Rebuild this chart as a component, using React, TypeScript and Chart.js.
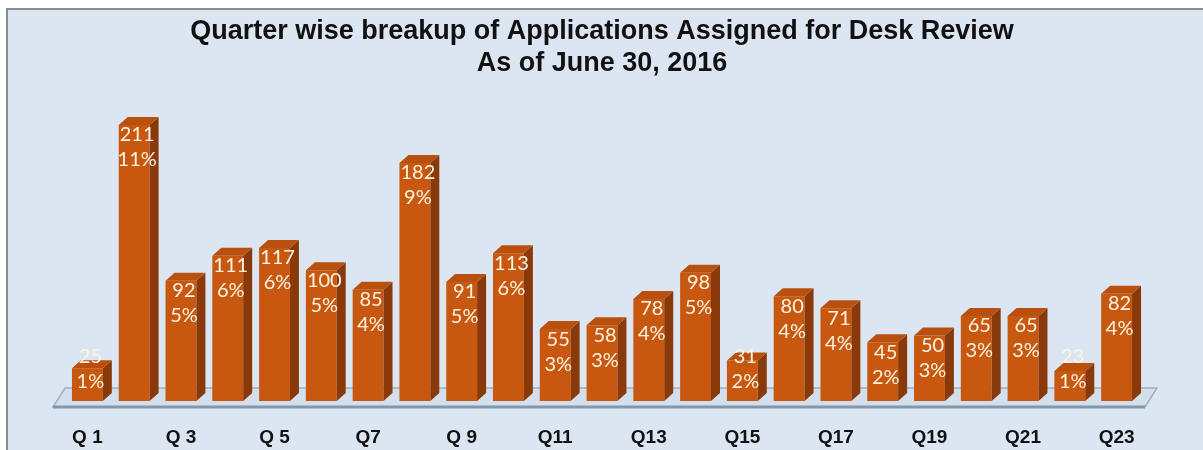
import React, { useEffect, useRef } from "react";
import { Chart, registerables } from "chart.js";

Chart.register(...registerables);

const categories = [
  "Q 1", "Q 2", "Q 3", "Q 4", "Q 5", "Q 6", "Q7", "Q8", "Q 9", "Q10", "Q11", "Q12",
  "Q13", "Q14", "Q15", "Q16", "Q17", "Q18", "Q19", "Q20", "Q21", "Q22", "Q23",
];
const applications = [25, 211, 92, 111, 117, 100, 85, 182, 91, 113, 55, 58, 78, 98, 31, 80, 71, 45, 50, 65, 65, 23, 82];
const percentLabels = ["1%", "11%", "5%", "6%", "6%", "5%", "4%", "9%", "5%", "6%", "3%", "3%", "4%", "5%", "2%", "4%", "4%", "2%", "3%", "3%", "3%", "1%", "4%"];
const titleLines = ["Quarter wise breakup of Applications Assigned for Desk Review", "As of June 30, 2016"];

const BG = "#dce6f2";
const DX = 9;
const DY = -8;

const panelPlugin = {
  id: "panel",
  beforeDraw(chart: any) {
    const { ctx, width, height } = chart;
    ctx.save();
    ctx.fillStyle = "#ffffff";
    ctx.fillRect(0, 0, width, height);
    ctx.fillStyle = BG;
    ctx.fillRect(7, 9, width - 7, height - 9);
    ctx.strokeStyle = "#8c8c8c";
    ctx.lineWidth = 2;
    ctx.beginPath();
    ctx.moveTo(7, height);
    ctx.lineTo(7, 9);
    ctx.lineTo(width, 9);
    ctx.stroke();
    ctx.restore();
  },
};

const floorPlugin = {
  id: "floor3d",
  beforeDatasetsDraw(chart: any) {
    const { ctx, chartArea } = chart;
    const b = chartArea.bottom;
    const fl = chartArea.left - 11;
    const fr = chartArea.right + 5;
    ctx.save();
    ctx.fillStyle = "#d3dfec";
    ctx.beginPath();
    ctx.moveTo(fl, b + 6);
    ctx.lineTo(fr, b + 6);
    ctx.lineTo(fr + 12, b - 13);
    ctx.lineTo(fl + 12, b - 13);
    ctx.closePath();
    ctx.fill();
    ctx.strokeStyle = "#9fb0c2";
    ctx.lineWidth = 1.5;
    ctx.stroke();
    ctx.strokeStyle = "#8397ad";
    ctx.lineWidth = 3;
    ctx.beginPath();
    ctx.moveTo(fl, b + 6);
    ctx.lineTo(fr, b + 6);
    ctx.stroke();
    ctx.restore();
  },
};

const bar3dPlugin = {
  id: "bar3d",
  afterDatasetsDraw(chart: any) {
    const { ctx } = chart;
    const meta = chart.getDatasetMeta(0);
    ctx.save();
    meta.data.forEach((el: any, i: number) => {
      const p = el.getProps(["x", "y", "base", "width"], true);
      const l = p.x - p.width / 2;
      const r = p.x + p.width / 2;
      ctx.fillStyle = "#8a3a0a";
      ctx.beginPath();
      ctx.moveTo(r, p.y);
      ctx.lineTo(r + DX, p.y + DY);
      ctx.lineTo(r + DX, p.base + DY);
      ctx.lineTo(r, p.base);
      ctx.closePath();
      ctx.fill();
      ctx.fillStyle = "#b9500e";
      ctx.beginPath();
      ctx.moveTo(l, p.y);
      ctx.lineTo(r, p.y);
      ctx.lineTo(r + DX, p.y + DY);
      ctx.lineTo(l + DX, p.y + DY);
      ctx.closePath();
      ctx.fill();
      ctx.fillStyle = "#fff3e2";
      ctx.font = "20px Lato, 'DejaVu Sans', sans-serif";
      ctx.textAlign = "center";
      ctx.textBaseline = "middle";
      const y2 = Math.min(p.y + 35, p.base - 19);
      const y1 = y2 - 25;
      ctx.fillText(String(applications[i]), p.x + 3, y1);
      ctx.fillText(percentLabels[i], p.x + 3, y2);
    });
    ctx.restore();
  },
};

export default function App() {
  const canvasRef = useRef<HTMLCanvasElement | null>(null);

  useEffect(() => {
    if (!canvasRef.current) return;
    const chart = new Chart(canvasRef.current, {
      type: "bar",
      data: {
        labels: categories,
        datasets: [
          {
            data: applications,
            backgroundColor: "#c8580f",
            borderWidth: 0,
            barPercentage: 0.66,
            categoryPercentage: 1,
          },
        ],
      },
      options: {
        responsive: false,
        animation: false,
        layout: { padding: { left: 64, right: 63, top: 0, bottom: 0 } },
        plugins: {
          legend: { display: false },
          tooltip: { enabled: false },
          title: {
            display: true,
            text: titleLines,
            color: "#111111",
            font: { family: "'Liberation Sans', Arial, sans-serif", size: 27, weight: "bold", lineHeight: 1.19 },
            padding: { top: 15, bottom: 0 },
          },
        },
        scales: {
          x: {
            grid: { display: false, drawTicks: false },
            border: { display: false },
            afterFit: (s: any) => {
              s.height = 49;
            },
            ticks: {
              autoSkip: false,
              maxRotation: 0,
              padding: 25,
              color: "#111111",
              font: { family: "'Liberation Sans', Arial, sans-serif", size: 19, weight: "bold" },
              callback: (_v: any, i: number) => (i % 2 === 0 ? categories[i] : ""),
            },
          },
          y: {
            display: false,
            min: 0,
            max: 246,
          },
        },
      },
      plugins: [panelPlugin, floorPlugin, bar3dPlugin],
    });
    return () => chart.destroy();
  }, []);

  return (
    <div style={{ position: "fixed", left: 0, top: 0, width: 1203, height: 450 }}>
      <canvas ref={canvasRef} width={1203} height={450} style={{ width: 1203, height: 450 }} />
    </div>
  );
}
